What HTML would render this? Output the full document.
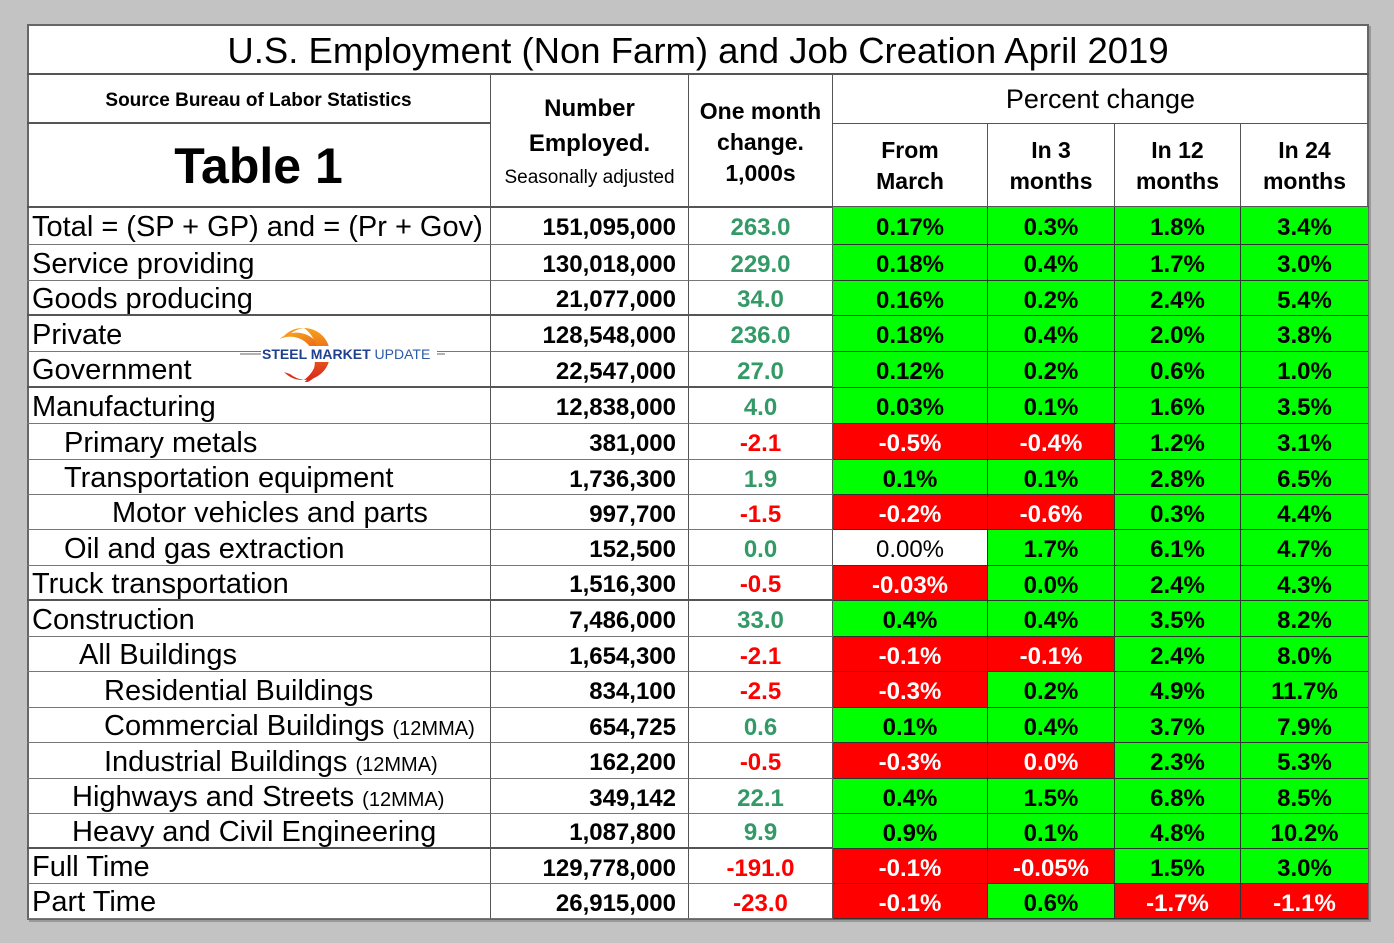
<!DOCTYPE html>
<html><head><meta charset="utf-8"><style>
body{margin:0;width:1394px;height:943px;background:#c3c3c3;position:relative;overflow:hidden;font-family:"Liberation Sans",Arial,sans-serif;}
.c{position:absolute;box-sizing:border-box;display:flex;align-items:center;white-space:nowrap;}
#tbl{position:absolute;left:27px;top:24px;width:1342px;height:896px;background:#fff;border:2px solid #666;box-sizing:border-box;box-shadow:2px 2px 0 #999;}
</style></head><body>
<div id="tbl"></div>
<div id="root"></div>
<script>
const labels=["Total = (SP + GP) and = (Pr + Gov)","Service providing","Goods producing","Private","Government","Manufacturing","Primary metals","Transportation equipment","Motor vehicles and parts","Oil and gas extraction","Truck transportation","Construction","All Buildings","Residential Buildings","Commercial Buildings","Industrial Buildings","Highways and Streets","Heavy and Civil Engineering","Full Time","Part Time"];
const suffixes=["","","","","","","","","","","","","","","(12MMA)","(12MMA)","(12MMA)","","",""];
const indents=[0,0,0,0,0,0,32,32,80,32,0,0,47,72,72,72,40,40,0,0];
const employed=["151,095,000","130,018,000","21,077,000","128,548,000","22,547,000","12,838,000","381,000","1,736,300","997,700","152,500","1,516,300","7,486,000","1,654,300","834,100","654,725","162,200","349,142","1,087,800","129,778,000","26,915,000"];
const monthChange=[263.0,229.0,34.0,236.0,27.0,4.0,-2.1,1.9,-1.5,0.0,-0.5,33.0,-2.1,-2.5,0.6,-0.5,22.1,9.9,-191.0,-23.0];
const fromMarch=["0.17%","0.18%","0.16%","0.18%","0.12%","0.03%","-0.5%","0.1%","-0.2%","0.00%","-0.03%","0.4%","-0.1%","-0.3%","0.1%","-0.3%","0.4%","0.9%","-0.1%","-0.1%"];
const in3=["0.3%","0.4%","0.2%","0.4%","0.2%","0.1%","-0.4%","0.1%","-0.6%","1.7%","0.0%","0.4%","-0.1%","0.2%","0.4%","0.0%","1.5%","0.1%","-0.05%","0.6%"];
const in12=["1.8%","1.7%","2.4%","2.0%","0.6%","1.6%","1.2%","2.8%","0.3%","6.1%","2.4%","3.5%","2.4%","4.9%","3.7%","2.3%","6.8%","4.8%","1.5%","-1.7%"];
const in24=["3.4%","3.0%","5.4%","3.8%","1.0%","3.5%","3.1%","6.5%","4.4%","4.7%","4.3%","8.2%","8.0%","11.7%","7.9%","5.3%","8.5%","10.2%","3.0%","-1.1%"];
const industrialRed=[15];
const rowY=[207,245,281,316,352,388,424,460,495,530,566,601,637,672,708,743,779,814,849,884,919];
const colX=[27,491,689,833,988,1115,1241,1368];
const thick=[316,388,601,849];
const root=document.getElementById('root');
function cell(x,y,w,h,html,css,name){
  const d=document.createElement('div');d.className='c';
  d.style.cssText=`left:${x}px;top:${y}px;width:${w}px;height:${h}px;`+(css||'');
  d.innerHTML=html;
  
  
  root.appendChild(d);return d;
}
cell(27,24,1342,51,'U.S. Employment (Non Farm) and Job Creation April 2019','justify-content:center;font-size:36.5px;border-bottom:2px solid #555;padding-top:4px;','table-title');
cell(27,75,464,49,'Source Bureau of Labor Statistics','justify-content:center;font-size:19px;font-weight:bold;border-bottom:2px solid #555;border-right:1px solid #555;padding-top:4px;','source-note');
cell(27,124,464,83,'Table 1','justify-content:center;font-size:50px;font-weight:bold;border-right:1px solid #555;','table-number');
cell(491,75,198,132,'<div style="text-align:center;line-height:32px;margin-top:6px"><b style="font-size:24px">Number<br>Employed.</b><br><span style="font-size:19px;line-height:22px">Seasonally adjusted</span></div>','justify-content:center;border-right:1px solid #555;','number-employed-header');
cell(689,75,144,132,'<div style="text-align:center;line-height:31px;margin-top:2px">One month<br>change.<br>1,000s</div>','justify-content:center;font-size:23px;font-weight:bold;border-right:1px solid #555;','one-month-change-header');
cell(833,75,535,49,'Percent change','justify-content:center;font-size:27px;border-bottom:1px solid #555;','percent-change-header');
const ph=['From<br>March','In 3<br>months','In 12<br>months','In 24<br>months'];
const phn=['from-march-header','in-3-months-header','in-12-months-header','in-24-months-header'];
for(let i=0;i<4;i++)cell(colX[3+i],124,colX[4+i]-colX[3+i],83,'<div style="text-align:center;line-height:31px">'+ph[i]+'</div>','justify-content:center;font-size:23px;font-weight:bold;'+(i<3?'border-right:1px solid #555;':''),phn[i]);
cell(27,206,1342,2,'','background:#555;','header-divider');
const pcts=[fromMarch,in3,in12,in24];
for(let r=0;r<labels.length;r++){
  const y=rowY[r],h=rowY[r+1]-y;
  const bb=(thick.includes(rowY[r+1])?'border-bottom:2px solid #555;':'border-bottom:1px solid #777;');
  const lbl=labels[r]+(suffixes[r]?'&nbsp;<span style="font-size:20px;padding-top:6px">'+suffixes[r]+'</span>':'');
  cell(27,y,464,h,lbl,`padding-left:${5+indents[r]}px;font-size:29px;padding-top:3px;border-right:1px solid #555;`+bb,'row-label');
  cell(491,y,198,h,employed[r],'justify-content:flex-end;padding-right:12px;font-size:24px;font-weight:bold;padding-top:5px;border-right:1px solid #555;'+bb,'number-employed');
  const mc=monthChange[r];
  cell(689,y,144,h,mc.toFixed(1),'justify-content:center;font-size:24px;font-weight:bold;padding-top:5px;border-right:1px solid #555;color:'+(mc<0?'#ff0000':'#339966')+';'+bb,'one-month-change');
  for(let i=0;i<4;i++){
    const v=pcts[i][r];const num=parseFloat(v);
    let bg,fg,fw='bold';
    if(i===0&&num===0){bg='#fff';fg='#000';fw='normal';}
    else if(num<0||(i===1&&industrialRed.includes(r))){bg='#ff0000';fg='#fff';}
    else {bg='#00ff00';fg='#000';}
    cell(colX[3+i],y,colX[4+i]-colX[3+i],h,v,`justify-content:center;font-size:24px;font-weight:${fw};padding-top:5px;background:${bg};color:${fg};`+(i<3?'border-right:1px solid #333;':'')+'border-bottom:1px solid #333;','percent-change-cell');
  }
}
</script>
<div style="position:absolute;left:240px;top:326px;width:205px;height:56px;">
<svg width="205" height="56" viewBox="0 0 205 56"><defs><linearGradient id="g" x1="0" y1="0" x2="0" y2="1"><stop offset="0" stop-color="#f7a21b"/><stop offset="1" stop-color="#d9261c"/></linearGradient></defs>
<line x1="0" y1="28" x2="205" y2="28" stroke="#666" stroke-width="1"/>
<path d="M48 4 A26 26 0 1 1 48 54 A22 22 0 1 0 48 4Z" fill="url(#g)" transform="rotate(-25 64 28)"/>
<path d="M64 2 A26 26 0 0 1 64 54 A32 32 0 0 0 64 2Z" fill="url(#g)"/>
<path d="M44 10 A26 26 0 0 1 64 2 A28 28 0 0 0 50 8Z M44 46 A26 26 0 0 0 64 54 A28 28 0 0 1 50 48Z" fill="url(#g)"/>
<rect x="21" y="20" width="176" height="16" fill="#fff"/>
<text x="22" y="33" font-family="Liberation Sans, sans-serif" font-size="14" font-weight="bold" fill="#1f3f8f">STEEL MARKET <tspan font-weight="normal" fill="#2a5aa8">UPDATE</tspan></text></svg></div>
</body></html>
